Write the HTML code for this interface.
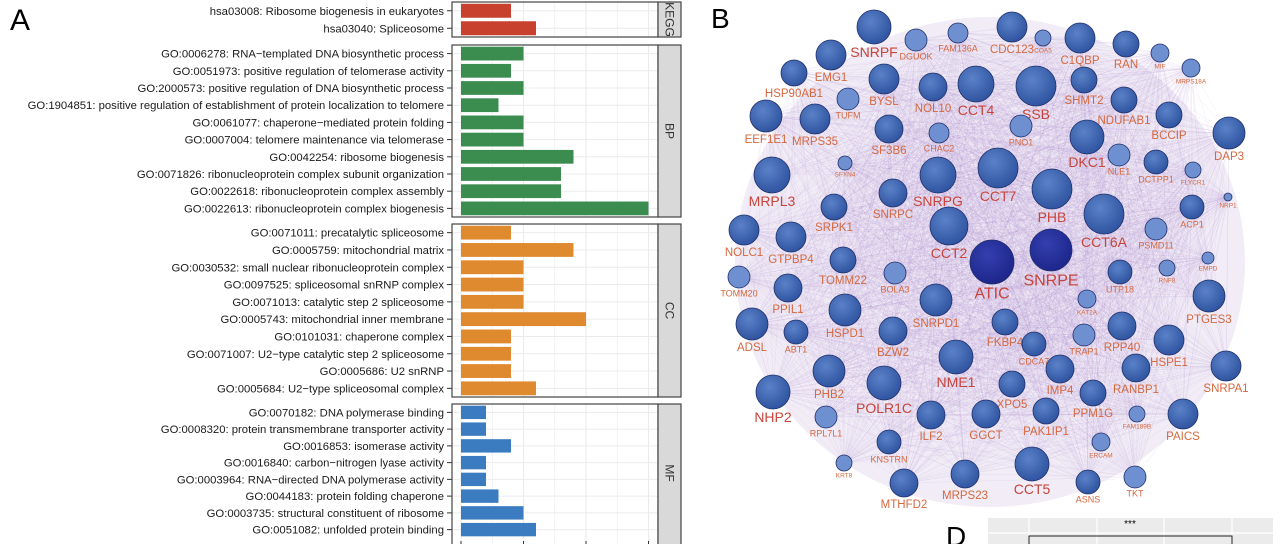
<!DOCTYPE html>
<html><head><meta charset="utf-8">
<style>
html,body{margin:0;padding:0;background:#fff;width:1280px;height:544px;overflow:hidden;font-family:"Liberation Sans",Arial,sans-serif;}
svg{position:absolute;left:0;top:0;}
</style></head>
<body>
<svg id="fig" width="1280" height="544" viewBox="0 0 1280 544" xmlns="http://www.w3.org/2000/svg">
<text x="10" y="30" font-size="30" font-family="Liberation Sans, sans-serif">A</text>
<text x="711" y="28" font-size="28" font-family="Liberation Sans, sans-serif">B</text>
<g id="barchart"></g>
<g id="network"></g>
<g id="panelD">
<text x="946" y="546" font-size="28">D</text>
<rect x="988" y="518" width="285" height="30" fill="#ebebeb"/>
<line x1="988" y1="533" x2="1273" y2="533" stroke="#fff" stroke-width="1.2"/>
<line x1="1029" y1="518" x2="1029" y2="544" stroke="#fff" stroke-width="1.2"/>
<line x1="1097" y1="518" x2="1097" y2="544" stroke="#fff" stroke-width="1.2"/>
<line x1="1164" y1="518" x2="1164" y2="544" stroke="#fff" stroke-width="1.2"/>
<line x1="1232" y1="518" x2="1232" y2="544" stroke="#fff" stroke-width="1.2"/>
<path d="M1029 544 V536 H1232 V544" fill="none" stroke="#222" stroke-width="1"/>
<text x="1130" y="527" font-size="10" text-anchor="middle">***</text>
</g>
</svg>
<script>
const NS='http://www.w3.org/2000/svg';
function mk(tag,attrs,parent){const e=document.createElementNS(NS,tag);for(const k in attrs)e.setAttribute(k,attrs[k]);parent.appendChild(e);return e;}

// ---- Panel A data ----
const keggTerms=["hsa03008: Ribosome biogenesis in eukaryotes","hsa03040: Spliceosome"];
const keggCounts=[4,6];
const bpTerms=["GO:0006278: RNA\u2212templated DNA biosynthetic process","GO:0051973: positive regulation of telomerase activity","GO:2000573: positive regulation of DNA biosynthetic process","GO:1904851: positive regulation of establishment of protein localization to telomere","GO:0061077: chaperone\u2212mediated protein folding","GO:0007004: telomere maintenance via telomerase","GO:0042254: ribosome biogenesis","GO:0071826: ribonucleoprotein complex subunit organization","GO:0022618: ribonucleoprotein complex assembly","GO:0022613: ribonucleoprotein complex biogenesis"];
const bpCounts=[5,4,5,3,5,5,9,8,8,15];
const ccTerms=["GO:0071011: precatalytic spliceosome","GO:0005759: mitochondrial matrix","GO:0030532: small nuclear ribonucleoprotein complex","GO:0097525: spliceosomal snRNP complex","GO:0071013: catalytic step 2 spliceosome","GO:0005743: mitochondrial inner membrane","GO:0101031: chaperone complex","GO:0071007: U2\u2212type catalytic step 2 spliceosome","GO:0005686: U2 snRNP","GO:0005684: U2\u2212type spliceosomal complex"];
const ccCounts=[4,9,5,5,5,10,4,4,4,6];
const mfTerms=["GO:0070182: DNA polymerase binding","GO:0008320: protein transmembrane transporter activity","GO:0016853: isomerase activity","GO:0016840: carbon\u2212nitrogen lyase activity","GO:0003964: RNA\u2212directed DNA polymerase activity","GO:0044183: protein folding chaperone","GO:0003735: structural constituent of ribosome","GO:0051082: unfolded protein binding"];
const mfCounts=[2,2,4,2,2,3,5,6];
const xTicks=[0,5,10,15];

const panels=[
 {name:"KEGG",terms:keggTerms,counts:keggCounts,color:"#c8412f",top:2,bottom:37},
 {name:"BP",terms:bpTerms,counts:bpCounts,color:"#3a8c4f",top:45,bottom:217},
 {name:"CC",terms:ccTerms,counts:ccCounts,color:"#e08a30",top:224,bottom:397},
 {name:"MF",terms:mfTerms,counts:mfCounts,color:"#3b7cc0",top:404,bottom:546}
];
const bc=document.getElementById('barchart');
const PX0=452,PX1=658,X0=461,UNIT=12.5;
function xs(v){return X0+v*UNIT;}
panels.forEach(p=>{
  const g=mk('g',{},bc);
  
  
  mk('rect',{x:PX0,y:p.top,width:PX1-PX0,height:p.bottom-p.top,fill:'#fff'},g);
  for(let v=0;v<=17.5;v+=2.5){const x=xs(v);if(x>PX1)break;
    mk('line',{x1:x,y1:p.top,x2:x,y2:p.bottom,stroke:'#ebebeb','stroke-width':(v%5===0)?1.1:0.6},g);}
  const n=p.terms.length;
  const step=(p.bottom-p.top- (p.name==="MF"?8:0))/n;
  p.terms.forEach((t,i)=>{
    const cy=p.top+step*(i+0.5);
    mk('line',{x1:PX0,y1:cy,x2:PX1,y2:cy,stroke:'#ebebeb','stroke-width':1},g);
    const b=mk('rect',{x:xs(0),y:cy-step*0.4,width:xs(p.counts[i])-xs(0),height:step*0.8,fill:p.color},g);
    
    
    const tx=mk('text',{x:444,y:cy+4,'font-size':11.3,'text-anchor':'end',fill:'#1a1a1a'},g);
    tx.textContent=t;
    
    
    mk('line',{x1:447,y1:cy,x2:452,y2:cy,stroke:'#333','stroke-width':1},g);
  });
  mk('rect',{x:PX0,y:p.top,width:PX1-PX0,height:p.bottom-p.top,fill:'none',stroke:'#444','stroke-width':1.2},g);
  const s=mk('rect',{x:PX1,y:p.top,width:23,height:p.bottom-p.top,fill:'#d9d9d9',stroke:'#444','stroke-width':1.2},g);
  
  
  const cy=(p.top+Math.min(p.bottom,542))/2;
  const st=mk('text',{x:PX1+11.5,y:cy,'font-size':12,'text-anchor':'middle','dominant-baseline':'central',fill:'#333',transform:`rotate(90 ${PX1+11.5} ${cy})`},g);
  st.textContent=p.name;
});
xTicks.forEach(v=>{mk('line',{x1:xs(v),y1:541,x2:xs(v),y2:544,stroke:'#333'},bc);});

// ---- Panel B network ----
const nodes=[
["SNRPF",874,27,17],["DGUOK",916,40,11],["FAM136A",958,33,10],["CDC123",1012,27,15],["COA5",1043,38,8],["C1QBP",1080,38,15],["RAN",1126,44,13],["MIF",1160,53,9],["MRPS18A",1191,68,9],
["EMG1",831,55,15],["HSP90AB1",794,73,13],["BYSL",884,79,15],["TUFM",848,99,11],["NOL10",933,87,14],["CCT4",976,84,18],["SSB",1036,86,20],["SHMT2",1084,80,13],["NDUFAB1",1124,100,13],["BCCIP",1169,115,13],["DAP3",1229,133,16],
["EEF1E1",766,116,16],["MRPS35",815,119,15],["SF3B6",889,129,14],["CHAC2",939,133,10],["PNO1",1021,126,11],["DKC1",1087,137,17],["NLE1",1119,155,11],["DCTPP1",1156,162,12],["FLYCR1",1193,170,8],["SFXN4",845,163,7],
["MRPL3",772,175,18],["SNRPG",938,175,18],["CCT7",998,168,20],["PHB",1052,189,20],["NRP1",1228,197,4],["ACP1",1192,207,12],["SNRPC",893,193,14],["SRPK1",834,207,13],["CCT2",949,226,19],["CCT6A",1104,214,20],["PSMD11",1156,229,11],
["NOLC1",744,230,15],["GTPBP4",791,237,15],["SNRPE",1051,250,21],["ATIC",992,262,22],["RNF8",1167,268,8],["EMPD",1208,258,6],["TOMM22",843,260,13],["BOLA3",895,273,11],["TOMM20",739,277,11],["UTP18",1120,272,12],["PPIL1",788,288,14],
["SNRPD1",936,300,16],["KAT2A",1087,299,9],["PTGES3",1209,296,16],["ADSL",752,324,16],["ABT1",796,332,12],["HSPD1",845,310,16],["FKBP4",1005,322,13],["BZW2",893,331,14],["CDCA7",1034,344,12],["TRAP1",1084,335,11],["RPP40",1122,326,14],["HSPE1",1169,340,15],["SNRPA1",1226,366,15],
["NME1",956,357,17],["IMP4",1060,369,14],["NHP2",773,392,17],["PHB2",829,371,16],["POLR1C",884,383,17],["XPO5",1012,384,13],["PPM1G",1093,393,13],["RANBP1",1136,368,14],["PAICS",1183,414,15],["FAM189B",1137,414,8],["RPL7L1",826,417,11],
["ILF2",931,415,14],["PAK1IP1",1046,411,13],["GGCT",986,414,14],["KNSTRN",889,442,12],["ERCAM",1101,442,9],["KRT8",844,463,8],["CCT5",1032,464,17],["TKT",1135,477,11],["ASNS",1088,482,12],["MRPS23",965,474,14],["MTHFD2",904,483,14]
];
const net=document.getElementById('network');
const bgE=mk('ellipse',{cx:990,cy:262,rx:255,ry:245,fill:'#e6dcef','fill-opacity':0.55},net);


const eg=mk('g',{stroke:'#9a74c6','stroke-width':0.5,'stroke-opacity':0.12},net);


for(let i=0;i<nodes.length;i++)for(let j=i+1;j<nodes.length;j++){
  if((i*7+j*3)%3===0)continue;
  mk('line',{x1:nodes[i][1],y1:nodes[i][2],x2:nodes[j][1],y2:nodes[j][2]},eg);
}
const defs=mk('defs',{},net);
const grad=mk('radialGradient',{id:'ng',cx:'40%',cy:'35%',r:'70%'},defs);
mk('stop',{offset:'0%','stop-color':'#5a82c8'},grad);
mk('stop',{offset:'100%','stop-color':'#2d519e'},grad);
const grad2=mk('radialGradient',{id:'ng2',cx:'40%',cy:'35%',r:'70%'},defs);
mk('stop',{offset:'0%','stop-color':'#3440b0'},grad2);
mk('stop',{offset:'100%','stop-color':'#1c2488'},grad2);
nodes.forEach(n=>{
  const [name,x,y,r]=n;
  const g=mk('g',{},net);
  
  
  mk('circle',{cx:x,cy:y,r:r,fill:r>=21?'url(#ng2)':(r<=11?'#6f90d0':'url(#ng)'),stroke:'#1f2f6a','stroke-width':0.8},g);
  const fs=r>=21?16:(r>=17?14:(r>=13?11.5:(r>=10?9:6.5)));
  const t=mk('text',{x:x,y:y+r+fs*0.85+1,'font-size':fs,'text-anchor':'middle',fill:r>=17?'#c8443a':'#d4683f'},g);
  t.textContent=name;
});
</script>
</body></html>
